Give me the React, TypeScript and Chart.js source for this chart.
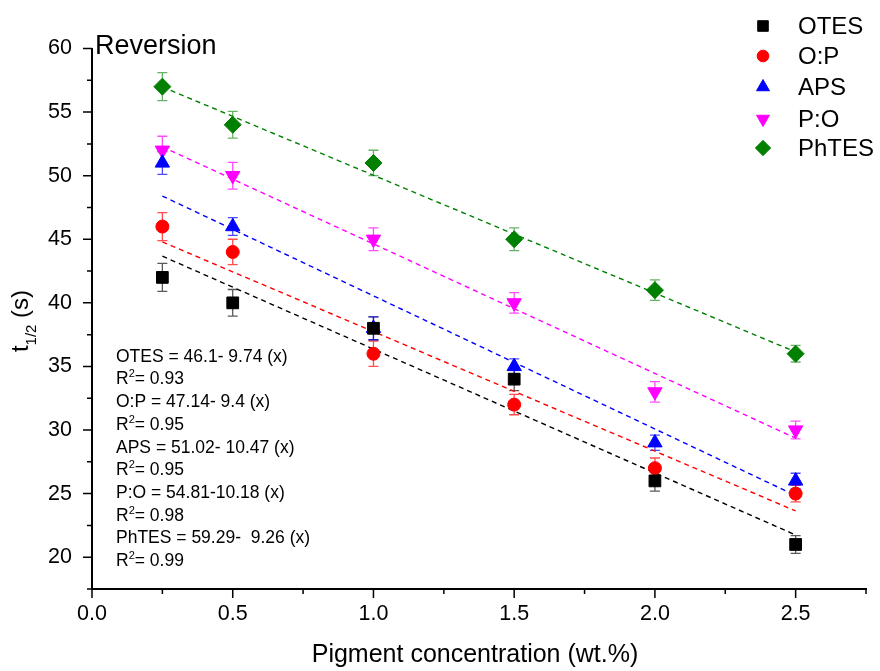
import React, { useEffect, useRef } from 'react';
import { Chart, registerables } from 'chart.js';
import { drawPoint } from 'chart.js/helpers';

Chart.register(...registerables);

// ---- data ----
const concentrations = [0.25, 0.5, 1.0, 1.5, 2.0, 2.5];
const seriesNames = ['OTES', 'O:P', 'APS', 'P:O', 'PhTES'];

const otesValues = [42, 40, 38, 34, 26, 21];
const opValues = [46, 44, 36, 32, 27, 25];
const apsValues = [51, 46, 38, 35, 29, 26];
const poValues = [52, 50, 45, 40, 33, 30];
const phtesValues = [57, 54, 51, 45, 41, 36];

const otesErr = [1.1, 1.05, 0.9, 0.9, 0.8, 0.7];
const opErr = [1.1, 1.0, 1.0, 0.8, 0.8, 0.65];
const apsErr = [0.9, 0.7, 0.9, 0.6, 0.6, 0.6];
const poErr = [1.1, 1.05, 0.9, 0.8, 0.8, 0.7];
const phtesErr = [1.1, 1.05, 1.0, 0.9, 0.8, 0.65];

// fitted lines, end points (x = 0.25 and x = 2.5)
const fitX = [0.25, 2.5];
const otesFit = [43.67, 21.75];
const opFit = [44.79, 23.64];
const apsFit = [48.4, 24.85];
const poFit = [52.27, 29.36];
const phtesFit = [56.98, 36.14];

const equationLines = [
  'OTES = 46.1- 9.74 (x)',
  'O:P = 47.14- 9.4 (x)',
  'APS = 51.02- 10.47 (x)',
  'P:O = 54.81-10.18 (x)',
  'PhTES = 59.29-  9.26 (x)',
];
const r2Values = ['0.93', '0.95', '0.95', '0.98', '0.99'];

const xTicks = [0, 0.5, 1.0, 1.5, 2.0, 2.5];
const xMinorTicks = [0.25, 0.75, 1.25, 1.75, 2.25, 2.75];
const yTicks = [20, 25, 30, 35, 40, 45, 50, 55, 60];
const yMinorTicks = [17.5, 22.5, 27.5, 32.5, 37.5, 42.5, 47.5, 52.5, 57.5];

const panelLabel = 'Reversion';
const xTitle = 'Pigment concentration (wt.%)';

// ---- styles ----
const FONT = '"Liberation Sans", Arial, Helvetica, sans-serif';
const colors = ['#000000', '#ff0000', '#0000ff', '#ff00ff', '#008000'];
const errColors = ['rgba(0,0,0,0.65)', 'rgba(255,0,0,0.7)', 'rgba(0,0,255,0.7)', 'rgba(255,0,255,0.7)', 'rgba(0,128,0,0.6)'];
const pointStyles: any[] = ['rect', 'circle', 'triangle', 'triangle', 'rectRot'];
const pointRotations = [0, 0, 0, 180, 0];
const pointRadii = [8.3, 6.5, 8.3, 8.3, 8.5];

const seriesValues = [otesValues, opValues, apsValues, poValues, phtesValues];
const seriesErr = [otesErr, opErr, apsErr, poErr, phtesErr];
const seriesFit = [otesFit, opFit, apsFit, poFit, phtesFit];

const errorBarPlugin = {
  id: 'errorBars',
  beforeDatasetsDraw(chart: any) {
    const { ctx, scales } = chart;
    const x = scales.x;
    const y = scales.y;
    ctx.save();
    ctx.lineWidth = 1.3;
    seriesValues.forEach((vals, i) => {
      ctx.strokeStyle = errColors[i];
      concentrations.forEach((c, j) => {
        const px = x.getPixelForValue(c);
        const top = y.getPixelForValue(vals[j] + seriesErr[i][j]);
        const bot = y.getPixelForValue(vals[j] - seriesErr[i][j]);
        ctx.beginPath();
        ctx.moveTo(px, top);
        ctx.lineTo(px, bot);
        ctx.moveTo(px - 5, top);
        ctx.lineTo(px + 5, top);
        ctx.moveTo(px - 5, bot);
        ctx.lineTo(px + 5, bot);
        ctx.stroke();
      });
    });
    ctx.restore();
  },
};

const decorPlugin = {
  id: 'decor',
  afterDraw(chart: any) {
    const { ctx, scales } = chart;
    const x = scales.x;
    const y = scales.y;
    const area = chart.chartArea;
    ctx.save();
    // ticks
    ctx.strokeStyle = '#000';
    ctx.lineWidth = 1.5;
    ctx.beginPath();
    xTicks.forEach((v) => {
      const px = x.getPixelForValue(v);
      ctx.moveTo(px, area.bottom);
      ctx.lineTo(px, area.bottom + 9);
    });
    xMinorTicks.forEach((v) => {
      const px = x.getPixelForValue(v);
      ctx.moveTo(px, area.bottom);
      ctx.lineTo(px, area.bottom + 5);
    });
    yTicks.forEach((v) => {
      const py = y.getPixelForValue(v);
      ctx.moveTo(area.left, py);
      ctx.lineTo(area.left - 9, py);
    });
    yMinorTicks.forEach((v) => {
      const py = y.getPixelForValue(v);
      ctx.moveTo(area.left, py);
      ctx.lineTo(area.left - 5, py);
    });
    ctx.stroke();

    ctx.fillStyle = '#000';
    // panel label
    ctx.font = `27px ${FONT}`;
    ctx.textAlign = 'left';
    ctx.textBaseline = 'alphabetic';
    ctx.fillText(panelLabel, 95, 54);

    // x title
    ctx.font = `25px ${FONT}`;
    ctx.textAlign = 'center';
    ctx.fillText(xTitle, 475, 662);

    // y title t_{1/2} (s)
    ctx.save();
    ctx.translate(28, 321);
    ctx.rotate(-Math.PI / 2);
    ctx.textAlign = 'left';
    const big = `24px ${FONT}`;
    const small = `15px ${FONT}`;
    ctx.font = big;
    const wT = ctx.measureText('t').width;
    const wS = ctx.measureText(' (s)').width;
    ctx.font = small;
    const wSub = ctx.measureText('1/2').width;
    let cx = -(wT + wSub + wS) / 2;
    ctx.font = big;
    ctx.fillText('t', cx, 0);
    cx += wT;
    ctx.font = small;
    ctx.fillText('1/2', cx, 8);
    cx += wSub;
    ctx.font = big;
    ctx.fillText(' (s)', cx, 0);
    ctx.restore();

    // equations
    ctx.textAlign = 'left';
    let lineY = 361.7;
    const step = 22.7;
    equationLines.forEach((eq, i) => {
      ctx.font = `17.5px ${FONT}`;
      ctx.fillText(eq, 116, lineY);
      lineY += step;
      let ex = 116;
      ctx.fillText('R', ex, lineY);
      ex += ctx.measureText('R').width;
      ctx.font = `11px ${FONT}`;
      ctx.fillText('2', ex, lineY - 7);
      ex += ctx.measureText('2').width;
      ctx.font = `17.5px ${FONT}`;
      ctx.fillText('= ' + r2Values[i], ex, lineY);
      lineY += step;
    });

    // legend
    const legendY = [26, 56, 87, 119, 148];
    seriesNames.forEach((name, i) => {
      ctx.fillStyle = colors[i];
      ctx.strokeStyle = colors[i];
      ctx.lineWidth = 1;
      drawPoint(ctx, { pointStyle: pointStyles[i], rotation: pointRotations[i], radius: pointRadii[i] * 0.9, borderWidth: 1 }, 763, legendY[i]);
      ctx.fillStyle = '#000';
      ctx.font = `24px ${FONT}`;
      ctx.textBaseline = 'middle';
      ctx.fillText(name, 798, legendY[i] + 1);
      ctx.textBaseline = 'alphabetic';
    });
    ctx.restore();
  },
};

export default function App() {
  const canvasRef = useRef<HTMLCanvasElement | null>(null);

  useEffect(() => {
    if (!canvasRef.current) return;
    const pointSets = seriesNames.map((name, i) => ({
      type: 'scatter' as const,
      label: name,
      data: concentrations.map((c, j) => ({ x: c, y: seriesValues[i][j] })),
      backgroundColor: colors[i],
      borderColor: colors[i],
      borderWidth: 1,
      pointStyle: pointStyles[i],
      rotation: pointRotations[i],
      pointRadius: pointRadii[i],
      showLine: false,
      order: 1,
    }));
    const fitSets = seriesNames.map((name, i) => ({
      type: 'scatter' as const,
      label: name + ' fit',
      data: fitX.map((c, j) => ({ x: c, y: seriesFit[i][j] })),
      borderColor: colors[i],
      backgroundColor: colors[i],
      borderWidth: 1.4,
      borderDash: [5, 4],
      pointRadius: 0,
      showLine: true,
      order: 2,
    }));

    const chart = new Chart(canvasRef.current, {
      type: 'scatter',
      data: { datasets: [...fitSets, ...pointSets] as any },
      options: {
        animation: false,
        responsive: true,
        maintainAspectRatio: false,
        layout: { padding: { top: 48.5, right: 14, left: 0, bottom: 0 } },
        plugins: {
          legend: { display: false },
          title: { display: false },
          tooltip: { enabled: false },
        },
        scales: {
          x: {
            type: 'linear',
            min: 0,
            max: 2.75,
            afterBuildTicks: (scale: any) => {
              scale.ticks = xTicks.map((v) => ({ value: v }));
            },
            afterFit: (scale: any) => {
              scale.height = 82;
            },
            grid: { display: true, drawOnChartArea: false, drawTicks: true, tickLength: 9, color: 'rgba(0,0,0,0)' },
            border: { display: true, color: '#000', width: 2 },
            ticks: {
              color: '#000',
              font: { family: FONT, size: 21.5 },
              padding: 3,
              maxRotation: 0,
              callback: (v: any) => Number(v).toFixed(1),
            },
          },
          y: {
            type: 'linear',
            min: 17.5,
            max: 60,
            afterBuildTicks: (scale: any) => {
              scale.ticks = yTicks.map((v) => ({ value: v }));
            },
            afterFit: (scale: any) => {
              scale.width = 92;
            },
            grid: { display: true, drawOnChartArea: false, drawTicks: true, tickLength: 9, color: 'rgba(0,0,0,0)' },
            border: { display: true, color: '#000', width: 2 },
            ticks: {
              color: '#000',
              font: { family: FONT, size: 21.5 },
              padding: 11,
              callback: (v: any) => String(v),
            },
          },
        },
      },
      plugins: [errorBarPlugin, decorPlugin],
    });
    return () => chart.destroy();
  }, []);

  return (
    <div style={{ position: 'absolute', left: 0, top: 0, width: 880, height: 671, background: '#fff' }}>
      <canvas ref={canvasRef} />
    </div>
  );
}
